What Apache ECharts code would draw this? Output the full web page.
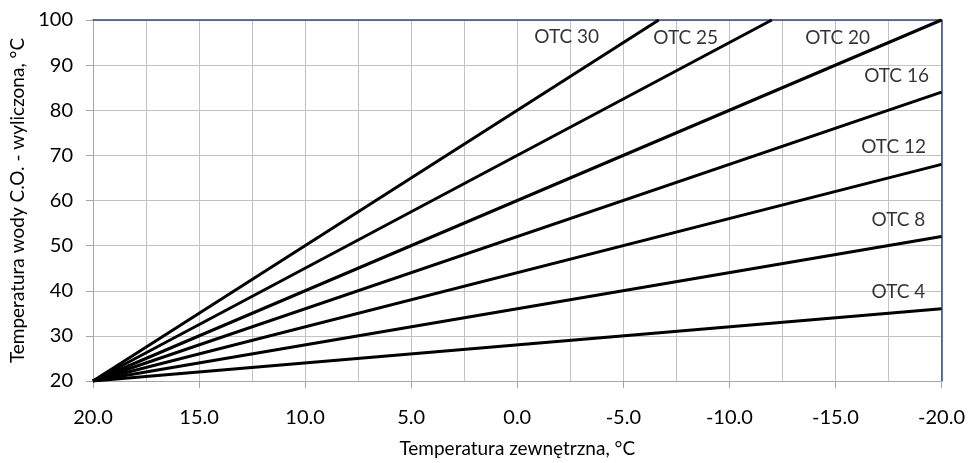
<!DOCTYPE html>
<html>
<head>
<meta charset="utf-8">
<script src="https://cdn.jsdelivr.net/npm/echarts@6/dist/echarts.min.js"></script>
<style>html,body{margin:0;padding:0;background:#fff;overflow:hidden}#c{width:968px;height:463px}</style>
</head>
<body>
<div id="c"></div>
<script>
// Series: [outside temp, water temp] end points
const otc4  = [[20, 20], [-20, 36]];
const otc8  = [[20, 20], [-20, 52]];
const otc12 = [[20, 20], [-20, 68]];
const otc16 = [[20, 20], [-20, 84]];
const otc20 = [[20, 20], [-20, 100]];
const otc25 = [[20, 20], [-12, 100]];
const otc30 = [[20, 20], [-6.67, 100]];
const seriesNames = ['OTC 4', 'OTC 8', 'OTC 12', 'OTC 16', 'OTC 20', 'OTC 25', 'OTC 30'];
// label anchor positions (data units)
const labelPos = [[-17.97, 39.8], [-17.97, 55.7], [-17.74, 71.8], [-17.88, 87.7], [-15.1, 96.1], [-7.94, 96.1], [-2.33, 96.3]];
const xTitle = 'Temperatura zewnętrzna, °C';
const yTitle = 'Temperatura wody C.O. - wyliczona, °C';

const allData = [otc4, otc8, otc12, otc16, otc20, otc25, otc30];
const FONT = 'Lato';
const el = document.getElementById('c');
const chart = echarts.init(el, null, {renderer: 'canvas', width: 968, height: 463});
const gridColor = '#c3c3c3';
const frameColor = '#2f4a88';

const series = allData.map((d, i) => ({
  name: seriesNames[i], type: 'line', data: d, symbol: 'none', silent: true,
  lineStyle: {color: '#000', width: 3}, xAxisIndex: 0, yAxisIndex: 0, z: 3
}));
series.push({
  type: 'scatter', symbolSize: 0, silent: true,
  data: labelPos.map((p, i) => ({value: p, name: seriesNames[i]})),
  label: {show: true, position: 'inside', formatter: p => p.name, color: '#000', fontFamily: FONT, fontSize: 19},
  z: 5
});

chart.setOption({
  animation: false,
  backgroundColor: '#fff',
  grid: {left: 93, right: 26, top: 20, bottom: 71, containLabel: false},
  xAxis: [{
    type: 'value', inverse: true, min: -20, max: 20, interval: 5,
    name: xTitle, nameLocation: 'middle', nameGap: 58,
    nameTextStyle: {fontFamily: FONT, fontSize: 19, color: '#000'},
    axisLine: {show: true, onZero: false, lineStyle: {color: '#a6a6a6', width: 1}},
    axisTick: {show: true, length: 7, lineStyle: {color: '#a6a6a6'}},
    axisLabel: {formatter: v => v.toFixed(1), fontFamily: FONT, fontSize: 20, color: '#000', margin: 27},
    splitLine: {show: true, lineStyle: {color: gridColor, width: 1}},
    minorTick: {show: false, splitNumber: 2},
    minorSplitLine: {show: true, lineStyle: {color: gridColor, width: 1}}
  }, {
    type: 'value', position: 'top', min: -20, max: 20, inverse: true,
    axisLine: {show: true, onZero: false, lineStyle: {color: frameColor, width: 1.5}},
    axisTick: {show: false}, axisLabel: {show: false}, splitLine: {show: false}
  }],
  yAxis: [{
    type: 'value', min: 20, max: 100, interval: 10,
    name: yTitle, nameLocation: 'middle', nameGap: 64, nameRotate: 90,
    nameTextStyle: {fontFamily: FONT, fontSize: 19, color: '#000'},
    axisLine: {show: true, onZero: false, lineStyle: {color: '#a6a6a6', width: 1}},
    axisTick: {show: true, length: 7, lineStyle: {color: '#a6a6a6'}},
    axisLabel: {fontFamily: FONT, fontSize: 20, color: '#000', margin: 20},
    splitLine: {show: true, lineStyle: {color: gridColor, width: 1}}
  }, {
    type: 'value', position: 'right', min: 20, max: 100,
    axisLine: {show: true, onZero: false, lineStyle: {color: frameColor, width: 1.5}},
    axisTick: {show: false}, axisLabel: {show: false}, splitLine: {show: false}
  }],
  series: series
});
</script>
</body>
</html>
